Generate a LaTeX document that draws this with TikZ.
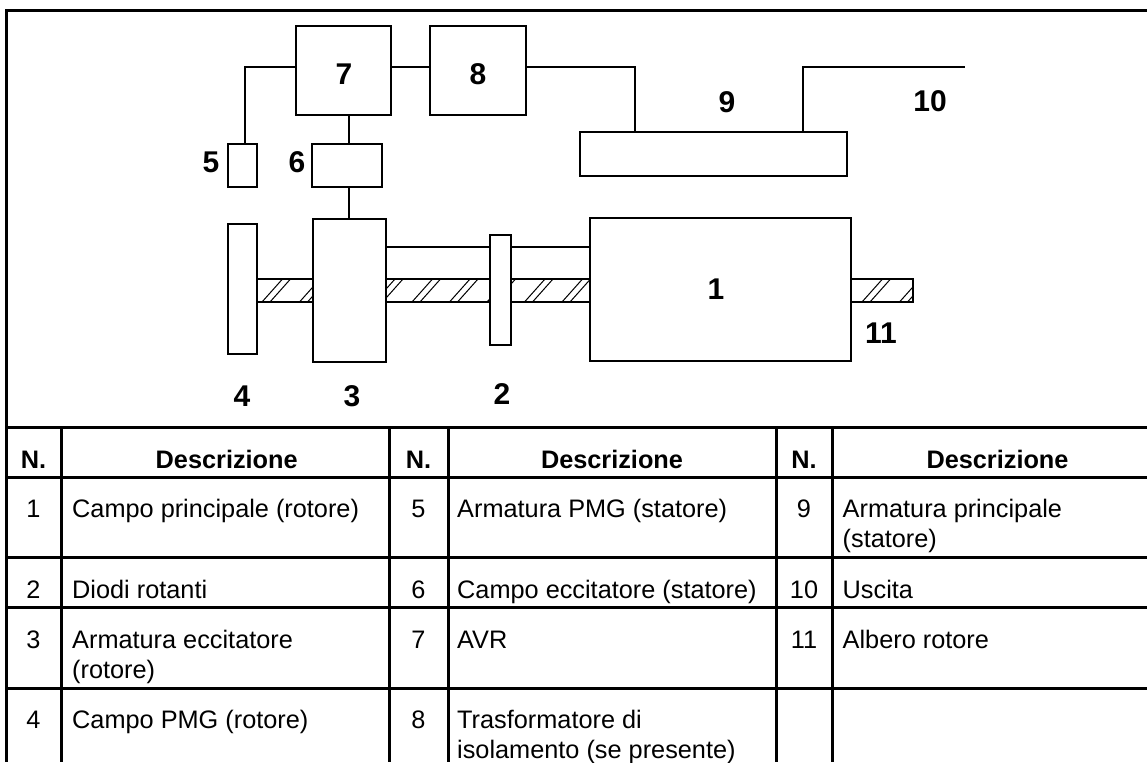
\documentclass[tikz,border=0pt]{standalone}
\usepackage{fontspec}
\setmainfont{Liberation Sans}
\tikzset{
  x=1pt,y=-1pt,
  blk/.style={draw=black,fill=white,line width=2pt,inner sep=0pt,outer sep=0pt},
  wire/.style={draw=black,line width=2pt,line join=miter},
  hatchln/.style={draw=black,line width=1pt},
  rule/.style={draw=black,line width=3pt},
  lbl/.style={font=\fontsize{30}{30}\selectfont\bfseries,inner sep=0pt},
  cell/.style={font=\fontsize{25.3}{30.7}\selectfont,inner sep=0pt,align=left,anchor=base west},
  numc/.style={font=\fontsize{25.3}{30.7}\selectfont,inner sep=0pt,anchor=base},
  head/.style={font=\fontsize{25.3}{30.7}\selectfont\bfseries,inner sep=0pt,anchor=base},
}
\newcommand{\blkbox}[5]{\node[blk,minimum width={(#4-#2)*1pt},minimum height={(#5-#3)*1pt}] (#1) at ({(#2+#4)/2},{(#3+#5)/2}) {};}
\begin{document}
\begin{tikzpicture}
\useasboundingbox (0,0) rectangle (1147,762);
% shaft with hatching
\begin{scope}
  \clip (257,279) rectangle (913,302);
  \foreach \h in {262,299.5,337,374.5,412,449.5,487,524.5,562,599.5,862,899.5}{
    \draw[hatchln] (\h,302) -- (\h+20.5,279);
    \draw[hatchln] (\h+8,302) -- (\h+28.5,279);
  }
\end{scope}
\draw[wire] (257,279) -- (851,279);
\draw[wire] (257,302) -- (851,302);
\draw[wire] (851,279) -- (913,279) -- (913,302) -- (851,302);
\draw[wire] (386,247) -- (590,247);
% blocks
\blkbox{b7}{296}{26}{391}{115}
\blkbox{b8}{430}{26}{526}{115}
\blkbox{b5}{228}{144}{257}{187}
\blkbox{b6}{312}{144}{382}{187}
\blkbox{b9}{580}{132}{847}{176}
\blkbox{b4}{228}{224}{257}{354}
\blkbox{b3}{313}{219}{386}{362}
\blkbox{b2}{490}{235}{511}{345}
\blkbox{b1}{590}{218}{851}{361}
% connectors
\coordinate (w5) at (245,67.5);
\coordinate (w9) at (635,67.5);
\coordinate (w10) at (803,67.5);
\coordinate (wend) at (965,67.5);
\draw[wire] (b7.west |- w5) -- (w5) -- (w5 |- b5.north);
\draw[wire] (b7.east |- w5) -- (b8.west |- w5);
\draw[wire] (b8.east |- w9) -- (w9) -- (w9 |- b9.north);
\draw[wire] (w10 |- b9.north) -- (w10) -- (wend);
\coordinate (v67) at (349,130);
\draw[wire] (v67 |- b7.south) -- (v67 |- b6.north);
\draw[wire] (v67 |- b6.south) -- (v67 |- b3.north);
% diagram labels
\node[lbl] (l7) at (344,74) {7};
\node[lbl] (l8) at (478,74) {8};
\node[lbl] (l5) at (211,162) {5};
\node[lbl] (l6) at (297,162) {6};
\node[lbl] (l9) at (727,102) {9};
\node[lbl] (l10) at (930,101) {10};
\node[lbl] (l1) at (716,289) {1};
\node[lbl] (l11) at (881,333) {11};
\node[lbl] (l4) at (242,396) {4};
\node[lbl] (l3) at (352,396) {3};
\node[lbl] (l2) at (502,394) {2};
% frame and table rules
\draw[rule] (1147,10.5) -- (6.5,10.5) -- (6.5,762);
\foreach \yy in {427.5,477,557,607,688}{\draw[rule] (6.5,\yy) -- (1147,\yy);}
\foreach \xx in {61,389,448,776,832}{\draw[rule] (\xx,427.5) -- (\xx,762);}
% header
\node[head] (h1) at (33.5,468) {N.};
\node[head] (h2) at (226.7,468) {Descrizione};
\node[head] (h3) at (418.5,468) {N.};
\node[head] (h4) at (612,468) {Descrizione};
\node[head] (h5) at (804,468) {N.};
\node[head] (h6) at (997.5,468) {Descrizione};
% column 1
\node[numc] (n1) at (33.5,517) {1};
\node[cell] (d1) at (72,517) {Campo principale (rotore)};
\node[numc] (n2) at (33.5,598) {2};
\node[cell] (d2) at (72,598) {Diodi rotanti};
\node[numc] (n3) at (33.5,648) {3};
\node[cell] (d3) at (72,648) {Armatura eccitatore};
\node[cell] (d3b) at (72,678.5) {(rotore)};
\node[numc] (n4) at (33.5,728) {4};
\node[cell] (d4) at (72,728) {Campo PMG (rotore)};
% column 2
\node[numc] (n5) at (418.5,517) {5};
\node[cell] (d5) at (457,517) {Armatura PMG (statore)};
\node[numc] (n6) at (418.5,598) {6};
\node[cell] (d6) at (457,598) {Campo eccitatore (statore)};
\node[numc] (n7) at (418.5,648) {7};
\node[cell] (d7) at (457,648) {AVR};
\node[numc] (n8) at (418.5,728) {8};
\node[cell] (d8) at (457,728) {Trasformatore di};
\node[cell] (d8b) at (457,758.5) {isolamento (se presente)};
% column 3
\node[numc] (n9) at (804,517) {9};
\node[cell] (d9) at (842.5,517) {Armatura principale};
\node[cell] (d9b) at (842.5,547.5) {(statore)};
\node[numc] (n10) at (804,598) {10};
\node[cell] (d10) at (842.5,598) {Uscita};
\node[numc] (n11) at (804,648) {11};
\node[cell] (d11) at (842.5,648) {Albero rotore};
\end{tikzpicture}
\end{document}
